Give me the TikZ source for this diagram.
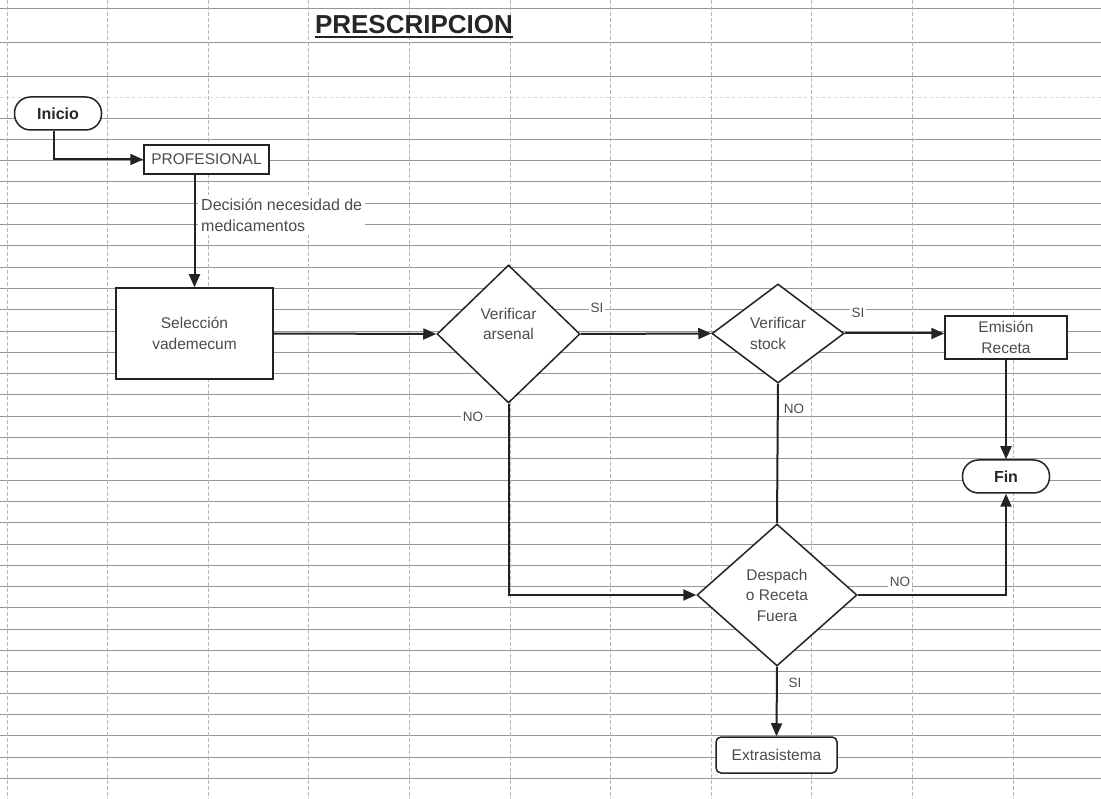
\documentclass[tikz,border=0pt]{standalone}
\usepackage{fontspec}
\setmainfont{Liberation Sans}
\usepackage{tikz}
\usetikzlibrary{shapes,arrows.meta,positioning,calc}
\definecolor{ink}{RGB}{35,35,35}
\definecolor{gridline}{RGB}{150,150,150}

\begin{document}
\begin{tikzpicture}[x=1pt,y=-1pt,
    box/.style={draw=ink,line width=1.5pt,fill=white,text=black!70,align=center,
        font=\fontsize{15.5}{20.5}\selectfont,inner sep=0pt},
    term/.style={draw=ink,line width=1.5pt,fill=white,rounded corners=16pt,text=black!85,
        font=\bfseries\fontsize{16}{20}\selectfont,minimum width=87pt,minimum height=33pt},
    decision/.style={diamond,aspect=1.5,draw=ink,line width=1.5pt,fill=white,text=black!70,
        align=center,font=\fontsize{15.5}{20.5}\selectfont,inner sep=0pt},
    lbl/.style={fill=white,text=black!70,font=\fontsize{13.5}{16}\selectfont,inner sep=2pt},
    flow/.style={draw=ink,line width=2pt,-{Triangle[length=13pt,width=11pt]}},
    link/.style={draw=ink,line width=2pt}]
\useasboundingbox[fill=white] (0,0) rectangle (1101,799);

\foreach \y in {8,42,76} {
    \draw[gridline,line width=0.9pt] (0,\y) -- (1101,\y);
}
\draw[gridline!40,line width=0.8pt,dashed] (0,97) -- (1101,97);
\foreach \n in {0,...,31} {
    \draw[gridline,line width=0.9pt] (0,118+21.3*\n) -- (1101,118+21.3*\n);
}
\foreach \n in {0,...,10} {
    \draw[gridline!70,line width=0.7pt,dash pattern=on 4pt off 2pt] (7+100.6*\n,0) -- (7+100.6*\n,799);
}

\node[inner sep=0pt,text=black!85,font=\bfseries\fontsize{26}{30}\selectfont] (title) at (414,25) {PRESCRIPCION};
\draw[ink,line width=2pt] ([yshift=-3.5pt]title.base west) -- ([yshift=-3.5pt]title.base east);

\node[term] (inicio) at (58,113.5) {Inicio};
\node[box,minimum width=125pt,minimum height=29pt] (prof) at (206.5,159.5) {PROFESIONAL};
\node[lbl,align=left,anchor=west,inner sep=3pt,font=\fontsize{16}{21.5}\selectfont] (decision) at (198,215) {Decisión necesidad de\\medicamentos};
\node[box,minimum width=157pt,minimum height=91pt] (sel) at (194.5,333.5) {Selección\\vademecum};
\node[decision,minimum width=143pt,minimum height=138pt] (arsenal) at (508.5,334) {Verificar\\arsenal\\\mbox{}};
\node[decision,minimum width=132pt,minimum height=99pt,align=left] (stock) at (778,333.5) {Verificar\\stock};
\node[box,minimum width=122pt,minimum height=43pt] (emision) at (1006,337.5) {Emisión\\Receta};
\node[term] (fin) at (1006,476.5) {Fin};
\node[decision,minimum width=160pt,minimum height=142pt] (despacho) at (777,595) {Despach\\o Receta\\Fuera};
\node[box,rounded corners=5pt,minimum width=121pt,minimum height=36pt] (extra) at (776.5,755) {Extrasistema};

\draw[flow] ([xshift=-4pt]inicio.south) |- (prof.west);
\draw[flow] (sel.north |- prof.south) -- (sel.north);
\draw[flow] (sel.east) -- (arsenal.west);
\draw[flow] (arsenal.east) -- (stock.west);
\draw[flow] (stock.east) -- (stock.east -| emision.west);
\draw[flow] (emision.south) -- (fin.north);
\draw[link] (stock.south) -- (despacho.north);
\draw[flow] (arsenal.south) |- (despacho.west);
\draw[flow] (despacho.east) -| (fin.south);
\draw[flow] (despacho.south) -- (extra.north);

\node[lbl] (si1) at (597,308) {SI};
\node[lbl] (si2) at (858,313) {SI};
\node[lbl] (no1) at (473,417) {NO};
\node[lbl] (no2) at (794,409) {NO};
\node[lbl] (no3) at (900,582) {NO};
\node[lbl] (si3) at (795,683) {SI};
\end{tikzpicture}
\end{document}
